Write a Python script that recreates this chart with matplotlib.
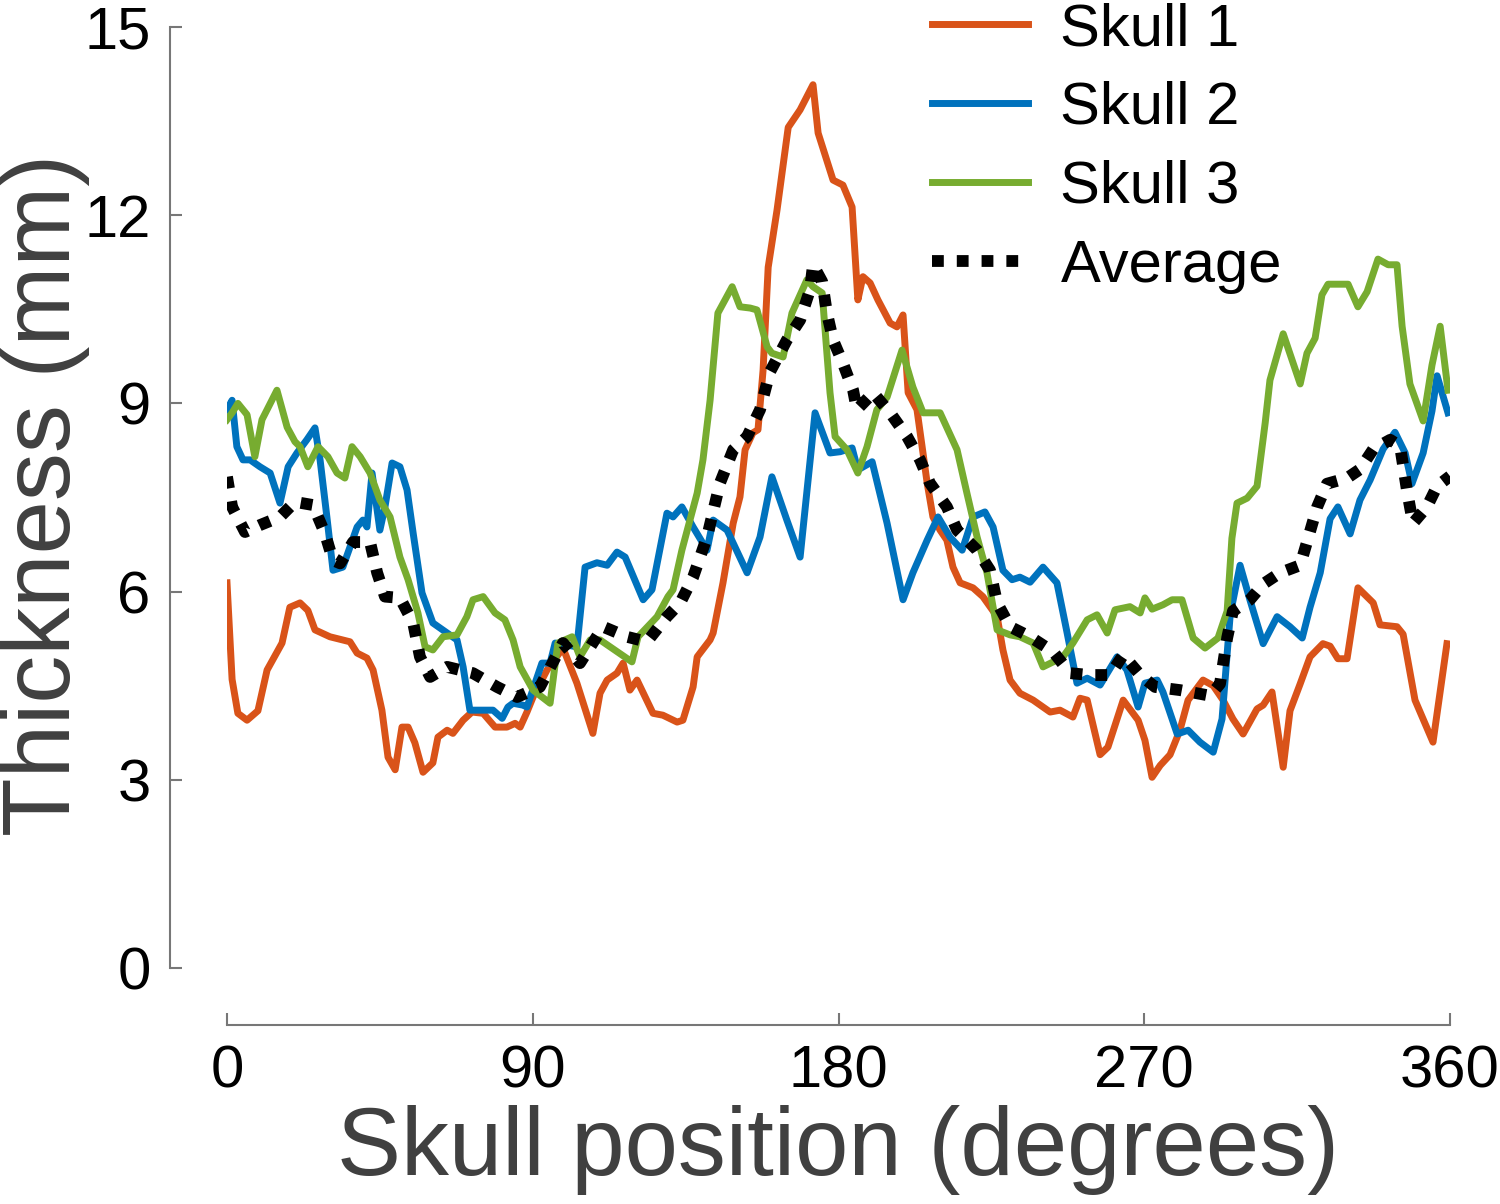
import matplotlib
matplotlib.use('Agg')
import matplotlib.pyplot as plt

plt.rcParams['font.family'] = ['Liberation Sans', 'DejaVu Sans']

# Skull 1
x1 = [0, 1.5, 3.2, 5.9, 9.1, 11.8, 16.2, 18.5, 21.5, 23.8, 25.9, 30.3, 36.2, 38.3, 41.2, 43.0,
      45.6, 47.4, 49.5, 51.5, 53.3, 55.3, 57.7, 60.6, 62.1, 64.8, 66.5, 69.5, 72.1, 75.4, 78.9,
      82.4, 84.8, 86.3, 88.3, 90.1, 94.2, 98.9, 103.0, 107.7, 109.8, 111.9, 114.8, 116.6, 118.6,
      120.7, 125.4, 128.3, 132.5, 134.2, 137.2, 138.4, 142.2, 143.1, 146.0, 149.0, 151.0, 152.5,
      154.8, 156.3, 157.8, 159.3, 161.9, 165.2, 168.7, 172.5, 174.0, 178.4, 181.3, 184.0, 185.7,
      187.2, 189.3, 191.6, 195.2, 197.2, 199.0, 200.5, 203.1, 206.1, 207.8, 209.9, 211.9, 213.7,
      215.8, 219.6, 222.5, 226.7, 228.4, 230.5, 233.4, 237.3, 242.3, 245.2, 249.0, 251.1, 253.2,
      257.0, 259.3, 263.8, 268.2, 270.2, 272.3, 274.7, 277.6, 280.5, 282.9, 287.3, 290.3, 293.2,
      296.1, 299.1, 303.2, 305.0, 307.6, 310.9, 312.9, 315.9, 318.8, 322.6, 324.7, 327.0, 329.7,
      332.9, 337.4, 339.4, 344.4, 346.2, 349.7, 355.0, 359.1]
y1 = [6.14, 4.6, 4.06, 3.95, 4.1, 4.75, 5.18, 5.75, 5.82, 5.7, 5.39, 5.28, 5.2, 5.02, 4.94, 4.75,
      4.11, 3.36, 3.16, 3.84, 3.84, 3.59, 3.12, 3.27, 3.68, 3.79, 3.74, 3.95, 4.08, 4.06, 3.84,
      3.84, 3.9, 3.84, 4.08, 4.32, 4.75, 5.1, 4.54, 3.74, 4.38, 4.59, 4.7, 4.86, 4.43,
      4.59, 4.06, 4.03, 3.92, 3.95, 4.48, 4.96, 5.23, 5.34, 6.14, 7.09, 7.51, 8.26,
      8.53, 8.58, 9.53, 11.17, 12.08, 13.4, 13.68, 14.08, 13.31, 12.56, 12.48, 12.13, 10.65,
      11.02, 10.92, 10.65, 10.28, 10.22, 10.41, 9.17, 8.9, 7.73, 7.19, 6.98, 6.82, 6.39,
      6.14, 6.06, 5.92, 5.6, 5.07, 4.59, 4.38, 4.27, 4.08, 4.11, 4.0, 4.3, 4.27,
      3.4, 3.52, 4.27, 3.95, 3.63, 3.04, 3.23, 3.4, 3.79, 4.27, 4.59, 4.5, 4.27,
      3.97, 3.73, 4.13, 4.19, 4.4, 3.2, 4.1, 4.53, 4.96, 5.17, 5.13, 4.93, 4.93,
      6.06, 5.82, 5.47, 5.44, 5.32, 4.27, 3.6, 5.17]

# Skull 2
x2 = [0, 1.5, 2.9, 4.7, 6.8, 9.7, 12.7, 15.6, 18.0, 20.6, 23.5, 25.9, 27.4, 29.4, 31.2, 34.1,
      36.2, 38.3, 40.0, 41.2, 42.7, 45.0, 46.5, 48.6, 50.9, 53.0, 54.8, 57.4, 60.6, 64.8, 67.7,
      69.5, 71.5, 74.5, 78.3, 81.0, 82.7, 84.2, 87.1, 88.3, 92.7, 95.1, 96.6, 103.0, 105.4,
      108.9, 111.9, 114.8, 117.2, 122.5, 125.1, 129.5, 131.3, 133.9, 137.2, 141.3, 143.1, 147.2,
      153.1, 156.9, 160.4, 164.8, 168.7, 173.1, 177.5, 180.5, 184.0, 185.7, 189.9, 194.3, 199.0,
      201.9, 206.1, 209.3, 212.8, 216.4, 219.6, 223.1, 225.5, 228.4, 231.1, 233.4, 236.4, 240.2,
      244.3, 247.3, 250.2, 253.2, 257.0, 262.0, 264.9, 268.2, 270.2, 273.8, 275.5, 279.7, 282.9,
      286.4, 290.3, 292.9, 295.3, 298.2, 301.1, 305.0, 309.1, 312.9, 316.5, 318.8, 321.8, 324.7,
      327.0, 330.6, 333.5, 336.5, 340.3, 343.8, 346.8, 348.8, 352.1, 354.7, 356.2, 359.4]
y2 = [8.9, 9.05, 8.31, 8.1, 8.1, 7.99, 7.89, 7.41, 7.99, 8.21, 8.42, 8.61, 8.1, 7.19, 6.34, 6.39,
      6.71, 7.03, 7.14, 7.03, 7.89, 6.98, 7.35, 8.05, 7.99, 7.62, 6.93, 5.98, 5.5, 5.34, 5.23,
      4.8, 4.11, 4.11, 4.11, 3.98, 4.16, 4.22, 4.19, 4.16, 4.86, 4.86, 5.18, 5.12, 6.39,
      6.46, 6.42, 6.63, 6.55, 5.87, 6.03, 7.25, 7.19, 7.35, 7.03, 6.66, 7.14, 6.98,
      6.3, 6.87, 7.83, 7.14, 6.55, 8.85, 8.21, 8.23, 8.29, 7.94, 8.07, 7.09, 5.87,
      6.3, 6.82, 7.19, 6.87, 6.66, 7.19, 7.27, 7.03, 6.34, 6.19, 6.23, 6.15, 6.39,
      6.14, 5.34, 4.54, 4.62, 4.51, 4.96, 4.75, 4.16, 4.54, 4.59, 4.4, 3.73, 3.79,
      3.6, 3.44, 3.97, 5.63, 6.42, 5.87, 5.17, 5.6, 5.44, 5.26, 5.75, 6.3, 7.16,
      7.35, 6.92, 7.46, 7.78, 8.27, 8.54, 8.21, 7.72, 8.21, 8.88, 9.44, 8.85]

# Skull 3
x3 = [0, 1.5, 3.2, 5.9, 8.2, 10.3, 14.7, 17.7, 20.0, 21.5, 23.8, 26.8, 29.7, 32.4, 34.7, 36.8,
      39.2, 42.1, 45.0, 48.0, 50.9, 53.3, 56.2, 58.3, 60.6, 63.6, 67.7, 70.6, 72.4, 75.4, 78.9,
      81.8, 84.2, 86.3, 90.1, 95.1, 97.4, 101.6, 103.9, 106.9, 109.8, 119.2, 121.0, 126.6, 129.8,
      131.3, 133.9, 138.4, 140.1, 142.2, 144.5, 148.7, 151.0, 154.0, 156.0, 159.0, 160.4, 163.7,
      166.3, 170.7, 172.5, 175.2, 177.5, 179.0, 182.5, 185.7, 188.4, 191.3, 194.3, 198.7, 201.9,
      204.9, 209.9, 214.9, 217.8, 220.8, 223.7, 226.7, 230.5, 233.4, 237.3, 240.2, 243.2, 246.1,
      249.0, 253.2, 256.1, 259.1, 261.4, 265.8, 268.8, 270.2, 272.3, 275.5, 278.2, 281.1, 284.4,
      287.9, 291.7, 294.4, 295.8, 297.3, 300.3, 303.2, 305.6, 307.0, 310.9, 315.9, 317.9, 320.3,
      322.3, 324.1, 330.0, 332.9, 335.6, 338.8, 341.8, 344.4, 345.9, 348.2, 352.1, 354.7, 357.1,
      359.4]
y3 = [8.74, 8.85, 9.0, 8.82, 8.15, 8.74, 9.21, 8.62, 8.39, 8.31, 7.99, 8.31, 8.15, 7.89, 7.81, 8.31,
      8.15, 7.89, 7.46, 7.19, 6.55, 6.19, 5.66, 5.12, 5.07, 5.28, 5.31, 5.6, 5.87, 5.92, 5.66,
      5.55, 5.23, 4.8, 4.43, 4.22, 5.18, 5.28, 4.96, 5.23, 5.23, 4.88, 5.28, 5.6, 5.92,
      6.03, 6.66, 7.57, 8.1, 9.05, 10.44, 10.86, 10.54, 10.52, 10.49, 9.9, 9.8, 9.74,
      10.44, 10.97, 10.86, 10.76, 9.17, 8.47, 8.26, 7.89, 8.31, 8.9, 9.1, 9.85, 9.26,
      8.85, 8.85, 8.26, 7.57, 6.87, 6.3, 5.39, 5.31, 5.28, 5.18, 4.8, 4.88, 4.96,
      5.18, 5.55, 5.63, 5.34, 5.71, 5.76, 5.66, 5.9, 5.72, 5.79, 5.87, 5.87, 5.26,
      5.1, 5.26, 5.69, 6.85, 7.41, 7.49, 7.68, 8.69, 9.37, 10.11, 9.31, 9.8, 10.04,
      10.73, 10.9, 10.9, 10.54, 10.78, 11.3, 11.21, 11.21, 10.23, 9.31, 8.72, 9.61, 10.23,
      9.21]

# Average
xa = [0, 1.5, 5.3, 9.7, 15.6, 20.0, 25.3, 28.8, 31.2, 33.3, 37.1, 42.1, 44.2, 46.5, 50.9, 54.8,
      56.8, 59.8, 64.8, 72.4, 79.5, 85.4, 92.1, 98.9, 103.9, 110.7, 117.7, 123.6, 129.5, 133.4,
      137.2, 141.3, 145.1, 149.0, 153.1, 156.9, 159.8, 164.8, 168.7, 171.6, 172.5, 175.2, 176.6,
      178.4, 181.3, 184.3, 185.4, 190.2, 195.2, 200.2, 204.0, 206.9, 211.9, 214.9, 220.8, 224.6,
      226.7, 230.5, 236.4, 243.2, 248.2, 254.0, 259.9, 263.8, 268.8, 273.2, 280.5, 289.4, 292.3,
      294.4, 296.1, 301.1, 305.0, 310.0, 315.9, 317.9, 320.9, 323.8, 329.7, 333.5, 337.4, 342.4,
      345.3, 347.4, 349.1, 353.2, 356.2, 360.0]
ya = [7.83, 7.35, 6.95, 7.06, 7.19, 7.43, 7.38, 6.93, 6.5, 6.45, 6.79, 6.79, 6.3, 5.92, 5.9, 5.5,
      4.96, 4.64, 4.8, 4.7, 4.48, 4.32, 4.48, 5.18, 4.86, 5.44, 5.28, 5.2, 5.6, 5.82,
      6.23, 6.87, 7.73, 8.26, 8.47, 8.9, 9.5, 10.01, 10.33, 10.81, 11.21, 10.94, 10.44,
      10.01, 9.64, 9.21, 8.9, 9.17, 8.85, 8.47, 8.1, 7.73, 7.35, 6.98, 6.66, 6.34,
      5.82, 5.44, 5.28, 5.04, 4.7, 4.67, 4.67, 4.99, 4.67, 4.48, 4.43, 4.34, 4.53,
      5.26, 5.69, 5.87, 6.12, 6.3, 6.42, 6.79, 7.35, 7.72, 7.81, 7.95, 8.27, 8.42,
      8.32, 7.59, 7.09, 7.35, 7.68, 7.84]

xticks = [0, 90, 180, 270, 360]
yticks = [0, 3, 6, 9, 12, 15]

axis_grey = '#777777'
label_grey = '#404040'

fig = plt.figure(figsize=(15, 12.04), dpi=100)
ax = fig.add_axes([227 / 1500, 1 - 968 / 1204, 1223 / 1500, 941 / 1204])

ax.plot(x1, y1, color='#D95319', lw=5, label='Skull 1')
ax.plot(x2, y2, color='#0072BD', lw=5, label='Skull 2')
ax.plot(x3, y3, color='#77AC30', lw=5, label='Skull 3')
ax.plot(xa, ya, color='black', lw=8.5, linestyle=(0, (1, 1.1)),
        dash_capstyle='butt', label='Average')

ax.set_xlim(0, 360)
ax.set_ylim(0, 15)
ax.set_xticks(xticks)
ax.set_yticks(yticks)

for s in ['top', 'right']:
    ax.spines[s].set_visible(False)
ax.spines['left'].set_position(('outward', 41))
ax.spines['bottom'].set_position(('outward', 41))
for s in ['left', 'bottom']:
    ax.spines[s].set_color(axis_grey)
    ax.spines[s].set_linewidth(1.5)

ax.tick_params(direction='in', length=8.6, width=1.5, color=axis_grey,
               labelsize=43, labelcolor='black')
ax.tick_params(axis='y', pad=14)
ax.tick_params(axis='x', pad=14)

fig.text(45 / 1500, 1 - 495 / 1204, 'Thickness (mm)', rotation=90,
         ha='center', va='center', fontsize=69, color=label_grey)
fig.text(838 / 1500, 1 - 1150 / 1204, 'Skull position (degrees)',
         ha='center', va='center', fontsize=69, color=label_grey)

ax.legend(loc='upper left', bbox_to_anchor=(932 / 1500, 1 - 2 / 1204),
          bbox_transform=fig.transFigure, frameon=False, fontsize=43,
          handlelength=1.6, handletextpad=0.55, labelspacing=0.4,
          borderpad=0, borderaxespad=0)

fig.savefig('out.png', dpi=100)
